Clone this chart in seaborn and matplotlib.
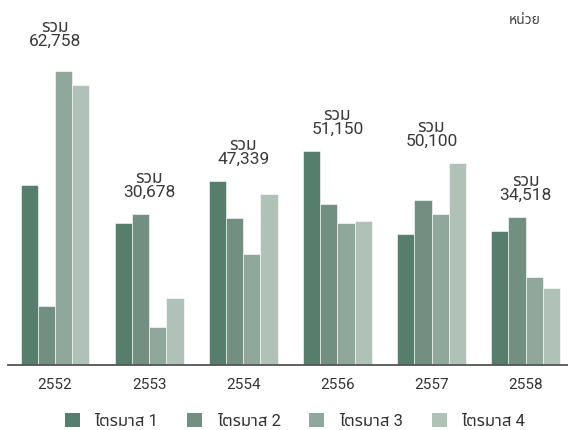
import matplotlib
matplotlib.use("Agg")
import matplotlib.pyplot as plt
from matplotlib.patches import Patch
import seaborn as sns
import pandas as pd

years = ["2552", "2553", "2554", "2556", "2557", "2558"]
quarters = ["ไตรมาส 1", "ไตรมาส 2", "ไตรมาส 3", "ไตรมาส 4"]
q1 = [13867, 10934, 14210, 16535, 10082, 10339]
q2 = [4509, 11688, 11322, 12467, 12738, 11449]
q3 = [22704, 2924, 8580, 10997, 11677, 6792]
q4 = [21678, 5132, 13227, 11151, 15603, 5938]
colors = ["#577d6d", "#728f81", "#8fa89b", "#b0c1b8"]
total_word = "รวม"
unit_word = "หน่วย"

sns.set_theme(style="white")
plt.rcParams["font.family"] = ["Roboto", "Noto Sans Thai", "DejaVu Sans"]

series = [q1, q2, q3, q4]
rows = []
for qname, vals in zip(quarters, series):
    for y, v in zip(years, vals):
        rows.append({"year": y, "quarter": qname, "value": v})
df = pd.DataFrame(rows)

fig = plt.figure(figsize=(5.68, 4.30), dpi=100)
ax = fig.add_axes([8 / 568, 65.5 / 430, 560 / 568, 364.5 / 430])

sns.barplot(data=df, x="year", y="value", hue="quarter", order=years,
            hue_order=quarters, palette=colors, saturation=1, width=0.73,
            ax=ax, edgecolor="white", linewidth=0.4, legend=False,
            errorbar=None)

ax.set_xlim(-0.5, 5.45)
ax.set_ylim(0, 28230)
ax.set_xlabel("")
ax.set_ylabel("")
ax.set_yticks([])
for side in ["top", "right", "left"]:
    ax.spines[side].set_visible(False)
ax.spines["bottom"].set_color("#555555")
ax.spines["bottom"].set_linewidth(1.3)
ax.tick_params(axis="x", length=0, pad=10, labelsize=11, labelcolor="#333333")

# total of the four quarters above each year's group;
# the tallest group gets its label lifted a little more
totals = [sum(v) for v in zip(*series)]
tops = [max(v) for v in zip(*series)]
for i, (t, top) in enumerate(zip(totals, tops)):
    lift = 16 if top == max(tops) else 10
    ax.annotate(f"{total_word}\n{t:,}", xy=(i, top), xytext=(0, lift),
                textcoords="offset points", ha="center", va="bottom",
                fontsize=12.5, color="#3a3a3a", linespacing=0.9)

fig.text(525 / 568, 1 - 20 / 430, unit_word, ha="center", va="center",
         fontsize=10, color="#444444")

handles = [Patch(facecolor=c, edgecolor="none") for c in colors]
fig.legend(handles, quarters, ncol=4, loc="center",
           bbox_to_anchor=(295 / 568, 1 - 421 / 430), frameon=False,
           fontsize=12, handlelength=0.9, handleheight=0.9,
           handletextpad=0.9, columnspacing=1.7, labelcolor="#333333")

fig.savefig("out.png", dpi=100)
